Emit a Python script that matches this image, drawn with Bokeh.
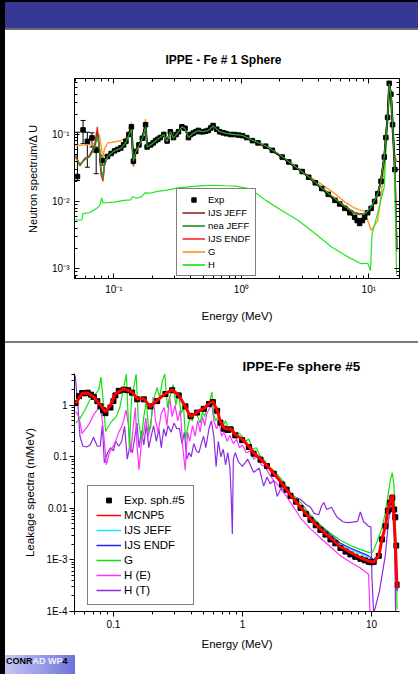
from bokeh.plotting import figure
from bokeh.models import (Range1d, FixedTicker, LogAxis, Legend, LegendItem, Whisker,
                          ColumnDataSource, Title, Div, CustomJSTickFormatter)
from bokeh.layouts import row, column
from bokeh.embed import file_html
from bokeh.resources import INLINE

FONT = "Liberation Sans"

# ---------------- top chart: IPPE - Fe # 1 Sphere ----------------
E_TOP = [0.050, 0.054, 0.059, 0.064, 0.068, 0.071, 0.074, 0.077, 0.079, 0.082, 0.084, 0.089, 0.095,
         0.101, 0.113, 0.124, 0.131, 0.137, 0.142, 0.148, 0.157, 0.167, 0.177, 0.182, 0.194, 0.212,
         0.231, 0.246, 0.261, 0.277, 0.293, 0.321, 0.341, 0.361, 0.384, 0.419, 0.459, 0.501, 0.55,
         0.599, 0.675, 0.76, 0.88, 1.02, 1.22, 1.55, 2.09, 2.65, 3.37, 4.27, 5.42, 6.48, 7.74, 8.47,
         9.26, 10.42, 11.74, 12.46, 13.23, 14.03, 14.45, 14.9, 15.35, 16.0, 16.6]
IJS_ENDF_TOP = [0.050, 0.034, 0.044, 0.048, 0.060, 0.075, 0.13, 0.06, 0.025, 0.020, 0.035, 0.047, 0.053,
                0.057, 0.063, 0.080, 0.10, 0.14, 0.034, 0.057, 0.07, 0.09, 0.15, 0.065, 0.07, 0.08,
                0.09, 0.10, 0.08, 0.11, 0.09, 0.11, 0.13, 0.125, 0.09, 0.105, 0.115, 0.11, 0.115,
                0.136, 0.11, 0.103, 0.1, 0.096, 0.081, 0.067, 0.046, 0.033, 0.0235, 0.016, 0.011, 0.0086,
                0.0068, 0.0066, 0.0066, 0.0081, 0.013, 0.021, 0.05, 0.19, 0.6, 0.42, 0.15, 0.035, 0.002]
IJS_JEFF_TOP = [0.047, 0.035, 0.043, 0.047, 0.058, 0.07, 0.11, 0.06, 0.03, 0.022, 0.034, 0.048, 0.053,
                0.058, 0.064, 0.078, 0.10, 0.13, 0.038, 0.055, 0.07, 0.088, 0.14, 0.065, 0.07, 0.082,
                0.092, 0.10, 0.08, 0.11, 0.09, 0.11, 0.13, 0.124, 0.09, 0.105, 0.115, 0.11, 0.115,
                0.135, 0.11, 0.103, 0.1, 0.096, 0.081, 0.067, 0.046, 0.033, 0.023, 0.016, 0.011, 0.0085,
                0.0068, 0.0065, 0.0065, 0.008, 0.013, 0.021, 0.05, 0.19, 0.6, 0.42, 0.15, 0.035, 0.002]
NEA_JEFF_TOP = [0.045, 0.036, 0.042, 0.046, 0.055, 0.066, 0.095, 0.06, 0.032, 0.022, 0.034, 0.047, 0.052,
                0.057, 0.062, 0.076, 0.098, 0.12, 0.04, 0.055, 0.068, 0.087, 0.13, 0.065, 0.07, 0.08,
                0.09, 0.10, 0.078, 0.11, 0.088, 0.11, 0.13, 0.123, 0.09, 0.105, 0.114, 0.11, 0.115,
                0.134, 0.11, 0.104, 0.1, 0.097, 0.082, 0.068, 0.047, 0.033, 0.0235, 0.016, 0.011, 0.0085,
                0.0066, 0.0064, 0.0065, 0.0082, 0.013, 0.02, 0.048, 0.18, 0.57, 0.4, 0.14, 0.03, 0.0018]
G_TOP = [0.068, 0.069, 0.070, 0.071, 0.072, 0.074, 0.097, 0.098, 0.07, 0.045, 0.06, 0.075, 0.076,
         0.078, 0.08, 0.09, 0.11, 0.15, 0.033, 0.05, 0.065, 0.09, 0.17, 0.062, 0.066, 0.082,
         0.095, 0.11, 0.072, 0.12, 0.085, 0.115, 0.14, 0.13, 0.083, 0.1, 0.11, 0.105, 0.11,
         0.13, 0.1, 0.1, 0.097, 0.095, 0.078, 0.064, 0.045, 0.032, 0.024, 0.018, 0.0131, 0.0098,
         0.008, 0.0075, 0.0072, 0.0037, 0.0052, 0.012, 0.03, 0.15, 0.53, 0.3, 0.1, 0.05, 0.04]
H_TOP_E = [0.049, 0.056, 0.057, 0.064, 0.07, 0.075, 0.078, 0.08, 0.082, 0.09, 0.1, 0.12, 0.135, 0.14,
           0.15, 0.165, 0.175, 0.19, 0.22, 0.26, 0.32, 0.42, 0.5, 0.6, 0.75, 0.9, 1.1, 1.22, 1.55,
           2.09, 2.8, 3.8, 5.1, 6.9, 8.7, 9.8, 10.3, 10.6, 11.7, 13.2, 14.0, 14.6, 15.3, 15.8, 16.5]
H_TOP_V = [0.0053, 0.0053, 0.0066, 0.0068, 0.0075, 0.0082, 0.009, 0.0113, 0.0095, 0.0096, 0.0098,
           0.0104, 0.0106, 0.0118, 0.0112, 0.0118, 0.0135, 0.0133, 0.0142, 0.0148, 0.016, 0.0168,
           0.0173, 0.0175, 0.0172, 0.017, 0.0158, 0.0146, 0.0104, 0.0073, 0.0052, 0.0033, 0.0021,
           0.00148, 0.00118, 0.0012, 0.00093, 0.0033, 0.0066, 0.0164, 0.18, 0.48, 0.27, 0.046, 0.00083]
EXP_TOP_E = [0.0517, 0.0572, 0.0618, 0.0672, 0.0725, 0.0807,
             0.089, 0.095, 0.101, 0.107, 0.113, 0.119, 0.124, 0.131, 0.137, 0.142, 0.148, 0.157,
             0.167, 0.177, 0.182, 0.194, 0.203, 0.212, 0.221, 0.231, 0.246, 0.261, 0.277, 0.293,
             0.307, 0.321, 0.341, 0.361, 0.384, 0.40, 0.419, 0.439, 0.459, 0.48, 0.501, 0.525,
             0.55, 0.575, 0.599, 0.64, 0.675, 0.72, 0.76, 0.82, 0.88, 0.95, 1.02, 1.1, 1.22, 1.35,
             1.55, 1.75, 2.09, 2.35, 2.65, 3.0, 3.37, 3.8, 4.27, 4.8, 5.42, 5.9, 6.48, 7.1, 7.74,
             8.1, 8.47, 8.9, 9.26, 9.8, 10.42, 11.1, 11.74, 12.46, 13.23, 13.6, 14.03, 14.45, 14.9,
             15.35, 16.0]
EXP_TOP_V = [0.0236, 0.117, 0.079, 0.089, 0.058, 0.041,
             0.047, 0.052, 0.057, 0.06, 0.063, 0.07, 0.079, 0.1, 0.13, 0.04, 0.056, 0.07,
             0.088, 0.14, 0.065, 0.07, 0.075, 0.081, 0.085, 0.09, 0.1, 0.08, 0.11, 0.09,
             0.1, 0.11, 0.13, 0.124, 0.09, 0.1, 0.105, 0.11, 0.115, 0.11, 0.11, 0.112,
             0.115, 0.125, 0.136, 0.12, 0.11, 0.106, 0.103, 0.1, 0.1, 0.098, 0.096, 0.09, 0.081, 0.075,
             0.067, 0.058, 0.046, 0.039, 0.0325, 0.028, 0.023, 0.019, 0.0156, 0.0128, 0.0104, 0.0092,
             0.0079, 0.0068, 0.0058, 0.0052, 0.0047, 0.0052, 0.0058, 0.0068, 0.0079, 0.010, 0.0131,
             0.02, 0.046, 0.09, 0.18, 0.58, 0.40, 0.14, 0.03]
EXP_ERR_LO = [0.0206, 0.073, 0.0325, 0.065, 0.026, 0.035]
EXP_ERR_HI = [0.108, 0.162, 0.108, 0.106, 0.065, 0.049]

# ---------------- bottom chart: IPPE-Fe sphere #5 ----------------
E_BOT = [0.0508, 0.0572, 0.0632, 0.0704, 0.0793, 0.0867, 0.0948, 0.1036, 0.1202, 0.1396, 0.1527,
         0.1718, 0.1935, 0.2182, 0.2529, 0.2852, 0.3207, 0.3614, 0.3953, 0.4455, 0.501, 0.55, 0.59,
         0.6366, 0.675, 0.72, 0.77, 0.81, 0.88, 0.995, 1.12, 1.22, 1.38, 1.55, 1.75, 2.03, 2.36,
         2.82, 3.37, 4.02, 4.81, 5.75, 6.87, 8.22, 9.53, 10.42, 11.4, 12.1, 12.84, 13.4, 14.0,
         14.5, 14.9, 15.35, 15.8]
MCNP5_BOT = [1.08, 1.7, 1.72, 1.44, 1.0, 0.74, 1.0, 1.68, 2.09, 1.8, 1.34, 1.34, 0.93, 1.25, 1.68,
             2.0, 1.56, 0.93, 0.6, 0.74, 0.86, 1.08, 1.18, 0.8, 0.48, 0.36, 0.34, 0.35, 0.27, 0.22,
             0.16, 0.12, 0.09, 0.068, 0.048, 0.03, 0.018, 0.0105, 0.0062, 0.004, 0.0027, 0.0018,
             0.0014, 0.0011, 0.00095, 0.0009, 0.0012, 0.0026, 0.0045, 0.0095, 0.014, 0.0185, 0.0075,
             0.0019, 0.00028]
IJS_JEFF_BOT = [1.07, 1.7, 1.72, 1.45, 1.0, 0.75, 1.0, 1.66, 2.05, 1.8, 1.35, 1.33, 0.94, 1.24, 1.66,
                1.98, 1.55, 0.94, 0.61, 0.74, 0.86, 1.07, 1.17, 0.8, 0.49, 0.36, 0.34, 0.35, 0.27, 0.22,
                0.16, 0.12, 0.09, 0.068, 0.048, 0.031, 0.019, 0.011, 0.0066, 0.0043, 0.003, 0.002,
                0.0016, 0.0013, 0.0011, 0.001, 0.0013, 0.0027, 0.0046, 0.0095, 0.014, 0.018, 0.007,
                0.0018, 0.00025]
IJS_ENDF_BOT = [1.06, 1.68, 1.74, 1.46, 1.02, 0.76, 1.01, 1.65, 2.04, 1.82, 1.36, 1.32, 0.95, 1.23, 1.65,
                1.97, 1.57, 0.95, 0.62, 0.75, 0.87, 1.06, 1.16, 0.81, 0.5, 0.37, 0.35, 0.36, 0.28, 0.22,
                0.165, 0.125, 0.092, 0.07, 0.05, 0.031, 0.019, 0.0112, 0.0068, 0.0045, 0.0031, 0.0021,
                0.0017, 0.0014, 0.0012, 0.001, 0.0013, 0.0027, 0.0047, 0.0098, 0.0145, 0.0175, 0.0068,
                0.0017, 0.00025]
EXP_BOT_E = [0.0508, 0.054, 0.0572, 0.060, 0.0632, 0.067, 0.0704, 0.075, 0.0793, 0.083, 0.0867, 0.0948,
             0.1, 0.1036, 0.11, 0.1202, 0.13, 0.1396, 0.1527, 0.1718, 0.1935, 0.2182, 0.2529, 0.2852,
             0.3207, 0.3614, 0.3953, 0.4455, 0.501, 0.55, 0.59, 0.6366, 0.675, 0.72, 0.77, 0.81, 0.88,
             0.995, 1.12, 1.22, 1.38, 1.55, 1.75, 2.03, 2.2, 2.36, 2.6, 2.82, 3.1, 3.37, 3.7, 4.02,
             4.4, 4.81, 5.25, 5.75, 6.3, 6.87, 7.5, 8.22, 8.9, 9.53, 10.0, 10.42, 11.4, 12.1, 12.84,
             13.4, 14.0, 14.5, 15.0, 15.3, 15.6, 16.0]
EXP_BOT_V = [1.1, 1.5, 1.72, 1.7, 1.75, 1.6, 1.45, 1.2, 0.95, 0.8, 0.7, 0.9, 1.2, 1.55, 1.9, 2.0, 1.95,
             1.75, 1.3, 1.3, 0.95, 1.2, 1.65, 1.95, 1.55, 0.95, 0.62, 0.72, 0.85, 1.05, 1.15, 0.78,
             0.46, 0.35, 0.33, 0.34, 0.26, 0.21, 0.155, 0.115, 0.088, 0.066, 0.047, 0.029, 0.023,
             0.0175, 0.0135, 0.0102, 0.0078, 0.006, 0.0047, 0.0038, 0.0031, 0.0025, 0.0021, 0.0017,
             0.00145, 0.00128, 0.00115, 0.00105, 0.00098, 0.00092, 0.0009, 0.00092, 0.0012, 0.0025,
             0.0045, 0.009, 0.013, 0.016, 0.0095, 0.0067, 0.0019, 0.00033]
G_BOT_E = [0.051, 0.055, 0.060, 0.066, 0.072, 0.077, 0.080, 0.084, 0.087, 0.092, 0.098, 0.105, 0.112,
           0.120, 0.126, 0.133, 0.138, 0.145, 0.150, 0.156, 0.165, 0.172, 0.180, 0.188, 0.196, 0.205,
           0.218, 0.228, 0.240, 0.250, 0.262, 0.275, 0.290, 0.305, 0.318, 0.335, 0.350, 0.362, 0.375,
           0.390, 0.410, 0.430, 0.450, 0.470, 0.490, 0.510, 0.535, 0.560, 0.580, 0.600, 0.620, 0.650,
           0.680, 0.710, 0.740, 0.780, 0.820, 0.870, 0.920, 0.980, 1.05, 1.12, 1.20, 1.28, 1.38, 1.48,
           1.58, 1.70, 1.82, 1.95, 2.10, 2.36, 2.82, 3.37, 4.0, 4.8, 5.75, 6.87, 8.2, 9.5, 10.2, 11.0,
           12.0, 12.8, 13.6, 14.1, 14.5, 14.9, 15.35, 15.8]
G_BOT_V = [0.45, 0.55, 0.8, 1.3, 1.6, 2.0, 3.5, 1.0, 0.31, 0.4, 0.5, 0.6, 0.9, 2.2, 4.0, 0.14, 1.3,
           2.5, 4.0, 0.5, 0.22, 0.6, 1.2, 0.3, 0.5, 1.3, 2.2, 1.4, 3.0, 4.0, 0.9, 1.5, 2.5, 1.0, 1.8,
           0.7, 0.9, 0.22, 0.35, 0.55, 0.5, 0.8, 0.6, 0.45, 0.75, 0.6, 1.0, 1.25, 1.8, 0.65, 0.5, 0.6,
           0.48, 0.4, 0.5, 0.35, 0.38, 0.28, 0.3, 0.26, 0.2, 0.22, 0.14, 0.15, 0.1, 0.085, 0.066,
           0.058, 0.048, 0.04, 0.032, 0.02, 0.013, 0.0075, 0.0048, 0.0033, 0.0024, 0.0019, 0.0016,
           0.0014, 0.0014, 0.0022, 0.004, 0.008, 0.022, 0.038, 0.049, 0.03, 0.005, 0.00011]
HE_BOT_E = [0.051, 0.054, 0.057, 0.061, 0.064, 0.068, 0.071, 0.075, 0.079, 0.082, 0.085, 0.088, 0.093,
            0.098, 0.104, 0.110, 0.116, 0.120, 0.125, 0.131, 0.136, 0.142, 0.148, 0.152, 0.158, 0.165,
            0.172, 0.178, 0.186, 0.195, 0.203, 0.212, 0.222, 0.235, 0.248, 0.260, 0.272, 0.285, 0.300,
            0.315, 0.330, 0.345, 0.360, 0.375, 0.390, 0.410, 0.430, 0.450, 0.470, 0.490, 0.510, 0.530,
            0.560, 0.580, 0.600, 0.630, 0.660, 0.690, 0.720, 0.760, 0.800, 0.850, 0.900, 0.950, 1.00,
            1.07, 1.15, 1.22, 1.30, 1.40, 1.50, 1.62, 1.75, 1.90, 2.03, 2.20, 2.36, 2.60, 2.82, 3.10,
            3.37, 4.0, 4.8, 5.75, 6.87, 8.2, 9.5, 9.75]
HE_BOT_V = [0.75, 0.6, 0.28, 0.35, 0.41, 0.55, 0.69, 0.8, 1.0, 0.5, 0.2, 0.07, 0.12, 0.15, 0.2, 0.3,
            0.39, 0.51, 0.8, 0.41, 0.12, 0.36, 0.9, 0.17, 0.056, 0.2, 0.3, 0.56, 0.25, 0.4, 1.44, 0.5,
            0.3, 0.7, 0.9, 0.4, 1.5, 0.6, 1.0, 0.5, 0.8, 0.15, 0.055, 0.3, 0.2, 0.4, 0.25, 0.5, 0.3,
            0.6, 0.4, 0.7, 0.9, 1.0, 0.5, 0.35, 0.45, 0.25, 0.3, 0.2, 0.26, 0.18, 0.22, 0.15, 0.17,
            0.12, 0.13, 0.09, 0.1, 0.07, 0.064, 0.045, 0.035, 0.028, 0.022, 0.017, 0.013, 0.009,
            0.0065, 0.005, 0.004, 0.0027, 0.0018, 0.0012, 0.0009, 0.0007, 0.00053, 0.00009]
HT_BOT_E = [0.0505, 0.053, 0.055, 0.058, 0.062, 0.066, 0.070, 0.075, 0.079, 0.082, 0.085, 0.090, 0.095,
            0.100, 0.104, 0.110, 0.116, 0.122, 0.128, 0.134, 0.140, 0.146, 0.152, 0.158, 0.165, 0.172,
            0.180, 0.188, 0.196, 0.205, 0.215, 0.225, 0.235, 0.245, 0.255, 0.265, 0.280, 0.295, 0.310,
            0.325, 0.340, 0.355, 0.370, 0.385, 0.400, 0.420, 0.440, 0.460, 0.480, 0.500, 0.520, 0.550,
            0.575, 0.600, 0.625, 0.650, 0.680, 0.710, 0.740, 0.770, 0.800, 0.820, 0.835, 0.850, 0.880,
            0.930, 1.00, 1.10, 1.22, 1.35, 1.46, 1.55, 1.64, 1.75, 1.86, 2.00, 2.10, 2.30, 2.50, 2.80,
            3.10, 3.37, 3.60, 3.90, 4.10, 4.27, 4.50, 4.90, 5.40, 6.00, 6.50, 7.20, 7.80, 8.20, 8.70,
            9.50, 9.90, 10.1, 10.4, 11.5, 12.8, 13.6, 14.5, 15.1, 15.4]
HT_BOT_V = [3.8, 1.0, 0.25, 0.16, 0.155, 0.17, 0.24, 0.16, 0.16, 0.41, 0.076, 0.12, 0.15, 0.13, 0.2,
            0.16, 0.2, 0.39, 0.09, 0.16, 0.12, 0.23, 0.45, 0.15, 0.32, 0.17, 0.42, 0.15, 0.25, 0.4,
            0.2, 0.35, 0.15, 0.35, 0.25, 0.4, 0.3, 0.45, 0.35, 0.35, 0.18, 0.3, 0.09, 0.12, 0.1, 0.18,
            0.13, 0.12, 0.18, 0.25, 0.15, 0.35, 0.5, 0.25, 0.065, 0.2, 0.1, 0.14, 0.07, 0.12, 0.06,
            0.015, 0.0032, 0.09, 0.12, 0.08, 0.065, 0.09, 0.05, 0.06, 0.027, 0.04, 0.03, 0.035, 0.017,
            0.025, 0.022, 0.02, 0.017, 0.015, 0.012, 0.0105, 0.008, 0.0075, 0.011, 0.013, 0.0095,
            0.0105, 0.0068, 0.0055, 0.0053, 0.0054, 0.0056, 0.0085, 0.0055, 0.0045, 0.0044, 0.00044,
            0.00009, 0.00024, 0.0012, 0.006, 0.017, 0.0025, 0.00009]

TOP_X_LABELS = {0.1: "10⁻¹", 1.0: "10⁰", 10.0: "10¹"}
TOP_Y_LABELS = {0.001: "10⁻³", 0.01: "10⁻²", 0.1: "10⁻¹"}
BOT_X_LABELS = {0.1: "0.1", 1.0: "1", 10.0: "10"}
BOT_Y_LABELS = {0.0001: "1E-4", 0.001: "1E-3", 0.01: "0.01", 0.1: "0.1", 1.0: "1"}


def minor_ticks(k0, k1):
    return [m * 10.0 ** k for k in range(k0, k1 + 1) for m in range(2, 10)]


def src(x, y):
    n = min(len(x), len(y))
    return ColumnDataSource(dict(x=list(x[:n]), y=list(y[:n])))


def style_axis(ax, ticker, overrides, tin, tout, min_in, min_out, size, standoff):
    ax.ticker = ticker
    ax.major_label_overrides = overrides
    ax.axis_line_color = "black"
    ax.major_tick_line_color = "black"
    ax.minor_tick_line_color = "black"
    ax.major_tick_in = tin
    ax.major_tick_out = tout
    ax.minor_tick_in = min_in
    ax.minor_tick_out = min_out
    ax.major_label_text_font = FONT
    ax.major_label_text_font_size = size
    ax.major_label_text_color = "black"
    ax.major_label_standoff = standoff
    ax.axis_label_text_font = FONT
    ax.axis_label_text_font_style = "normal"
    ax.axis_label_text_color = "black"
    ax.axis_label_text_font_size = "11.5px"


def style_legend(leg, font_size, pad, spacing, gw, gh):
    leg.label_text_font = FONT
    leg.label_text_font_size = font_size
    leg.label_text_color = "black"
    leg.padding = pad
    leg.spacing = spacing
    leg.margin = 0
    leg.glyph_width = gw
    leg.glyph_height = gh
    leg.label_height = gh
    leg.label_standoff = 3
    leg.border_line_color = "black"
    leg.border_line_width = 1
    leg.background_fill_color = "white"
    leg.background_fill_alpha = 1.0


def make_title(text, size, offset, standoff):
    t = Title(text=text, align="left", offset=offset, text_font=FONT, text_font_size=size,
              text_font_style="bold", text_color="black")
    if "standoff" in Title.properties():
        t.standoff = standoff
    return t


# ---------- top figure ----------
p1 = figure(width=413, height=311, x_axis_type="log", y_axis_type="log",
            x_range=Range1d(0.049, 17.4), y_range=Range1d(7.1e-4, 0.685),
            output_backend="svg", toolbar_location=None,
            min_border_left=68, min_border_right=16, min_border_top=48, min_border_bottom=63)
p1.grid.visible = False
p1.outline_line_color = "black"
p1.background_fill_color = "white"
p1.border_fill_color = "white"

xt1 = FixedTicker(ticks=[0.1, 1.0, 10.0], minor_ticks=minor_ticks(-2, 1))
yt1 = FixedTicker(ticks=[0.001, 0.01, 0.1], minor_ticks=minor_ticks(-4, -1))
style_axis(p1.xaxis[0], xt1, TOP_X_LABELS, 5, 0, 3, 0, "10px", 5)
style_axis(p1.yaxis[0], yt1, TOP_Y_LABELS, 5, 0, 3, 0, "10px", 5)
p1.xaxis[0].axis_label = "Energy (MeV)"
p1.xaxis[0].axis_label_standoff = 12
p1.yaxis[0].axis_label = "Neutron spectrum/Δ U"
p1.yaxis[0].axis_label_standoff = 10
p1.yaxis[0].axis_label_text_font_size = "11px"
ax_top = LogAxis(formatter=CustomJSTickFormatter(code="return ''"))
style_axis(ax_top, xt1, {}, 5, 0, 3, 0, "8px", 0)
p1.add_layout(ax_top, "above")
ax_right = LogAxis(formatter=CustomJSTickFormatter(code="return ''"))
style_axis(ax_right, yt1, {}, 5, 0, 3, 0, "8px", 0)
p1.add_layout(ax_right, "right")
p1.add_layout(make_title("IPPE - Fe # 1 Sphere", "12px", 91, 24), "above")

p1.line("x", "y", source=src(E_TOP, G_TOP), line_color="#ff9a2e", line_width=1.4)
p1.line("x", "y", source=src(E_TOP, IJS_ENDF_TOP), line_color="#ff2e2e", line_width=1.4)
p1.line("x", "y", source=src(E_TOP, IJS_JEFF_TOP), line_color="#9e2a2a", line_width=1.4)
p1.line("x", "y", source=src(H_TOP_E, H_TOP_V), line_color="#22e622", line_width=1.2)
p1.line("x", "y", source=src(EXP_TOP_E[6:], EXP_TOP_V[6:]), line_color="black", line_width=2)
err_src = ColumnDataSource(dict(base=EXP_TOP_E[:6], lower=EXP_ERR_LO, upper=EXP_ERR_HI))
wh = Whisker(base="base", lower="lower", upper="upper", source=err_src, dimension="height",
             line_color="black", line_width=1)
wh.upper_head.size = 5
wh.lower_head.size = 5
wh.upper_head.line_color = "black"
wh.lower_head.line_color = "black"
p1.add_layout(wh)
r_exp1 = p1.scatter("x", "y", source=src(EXP_TOP_E, EXP_TOP_V), marker="square", size=4.5,
                    color="black")
p1.line("x", "y", source=src(E_TOP, NEA_JEFF_TOP), line_color="#2e9a2e", line_width=1.3)

lg = [("IJS JEFF", "#a8504c"), ("nea JEFF", "#4ea04e"), ("IJS ENDF", "#ff5252"),
      ("G", "#ffa64d"), ("H", "#3dec3d")]
items1 = [LegendItem(label="Exp", renderers=[r_exp1])]
for name, col in lg:
    r = p1.line(x=[1.0, 1.0], y=[1e-6, 1e-6], line_color=col, line_width=2)
    items1.append(LegendItem(label=name, renderers=[r]))
leg1 = Legend(items=items1, location=(102, 2))
style_legend(leg1, "9.5px", 5, 2, 23, 11)
p1.add_layout(leg1)

# ---------- bottom figure ----------
p2 = figure(width=413, height=309, x_axis_type="log", y_axis_type="log",
            x_range=Range1d(0.0499, 16.5), y_range=Range1d(1e-4, 4.12),
            output_backend="svg", toolbar_location=None,
            min_border_left=69, min_border_right=19, min_border_top=30, min_border_bottom=39)
p2.grid.visible = False
p2.outline_line_color = None
p2.background_fill_color = "white"
p2.border_fill_color = "white"

xt2 = FixedTicker(ticks=[0.1, 1.0, 10.0], minor_ticks=minor_ticks(-2, 1))
yt2 = FixedTicker(ticks=[0.0001, 0.001, 0.01, 0.1, 1.0], minor_ticks=minor_ticks(-4, 0))
style_axis(p2.xaxis[0], xt2, BOT_X_LABELS, 0, 5, 0, 3, "10px", 3)
style_axis(p2.yaxis[0], yt2, BOT_Y_LABELS, 0, 5, 0, 3, "10px", 2)
p2.xaxis[0].axis_label = "Energy (MeV)"
p2.xaxis[0].axis_label_standoff = 7
p2.yaxis[0].axis_label = "Leakage spectra (n/MeV)"
p2.yaxis[0].axis_label_standoff = 7
p2.add_layout(make_title("IPPE-Fe sphere #5", "13.5px", 168, 0), "above")

p2.line("x", "y", source=src(HT_BOT_E, HT_BOT_V), line_color="#8b2be2", line_width=1.2)
p2.line("x", "y", source=src(HE_BOT_E, HE_BOT_V), line_color="#ff30ff", line_width=1.2)
p2.line("x", "y", source=src(G_BOT_E, G_BOT_V), line_color="#10e010", line_width=1.2)
p2.line("x", "y", source=src(E_BOT, IJS_JEFF_BOT), line_color="#19e6ff", line_width=1.2)
p2.line("x", "y", source=src(E_BOT, IJS_ENDF_BOT), line_color="#2525ff", line_width=1.2)
r_exp2 = p2.scatter("x", "y", source=src(EXP_BOT_E, EXP_BOT_V), marker="square", size=5,
                    color="black")
p2.line("x", "y", source=src(E_BOT, MCNP5_BOT), line_color="#ff0000", line_width=3)

lg2 = [("MCNP5", "#ff0000"), ("IJS JEFF", "#19e6ff"), ("IJS ENDF", "#2525ff"), ("G", "#10e010"),
       ("H (E)", "#ff30ff"), ("H (T)", "#8b2be2")]
items2 = [LegendItem(label="Exp. sph.#5", renderers=[r_exp2])]
for name, col in lg2:
    r = p2.line(x=[1.0, 1.0], y=[1e-8, 1e-8], line_color=col, line_width=1.5)
    items2.append(LegendItem(label=name, renderers=[r]))
leg2 = Legend(items=items2, location=(13, 6))
style_legend(leg2, "11.5px", 8, 3, 25, 12)
p2.add_layout(leg2)

# ---------- slide decorations ----------
bar = Div(text="", width=5, height=674, margin=0, styles={"background-color": "#000000"})
header = Div(text="", width=413, height=30, margin=0,
             styles={"background": "linear-gradient(to bottom, #000 0px, #000 2px, #363896 2px, "
                                   "#363896 28px, #6b6b6b 28px, #6b6b6b 30px)"})
sep = Div(text="", width=413, height=2, margin=0, styles={"background-color": "#7b7b7b"})
logo = Div(text='<div style="width:70px;height:22px;font-family:\'Liberation Sans\';font-weight:bold;'
                'font-size:9px;line-height:13px;padding-left:1px;'
                'background:linear-gradient(90deg,#c3c6f2 0%,#9ea3ea 45%,#6c73d8 100%);">'
                '<span style="color:#000">CONR</span><span style="color:#eef">AD WP</span>'
                '<span style="color:#000">4</span></div>',
           width=70, height=22, margin=0)

layout = row(bar, column(header, p1, sep, p2, logo, spacing=0, margin=0), spacing=0, margin=0)

open("out.html", "w").write(file_html(layout, INLINE))
